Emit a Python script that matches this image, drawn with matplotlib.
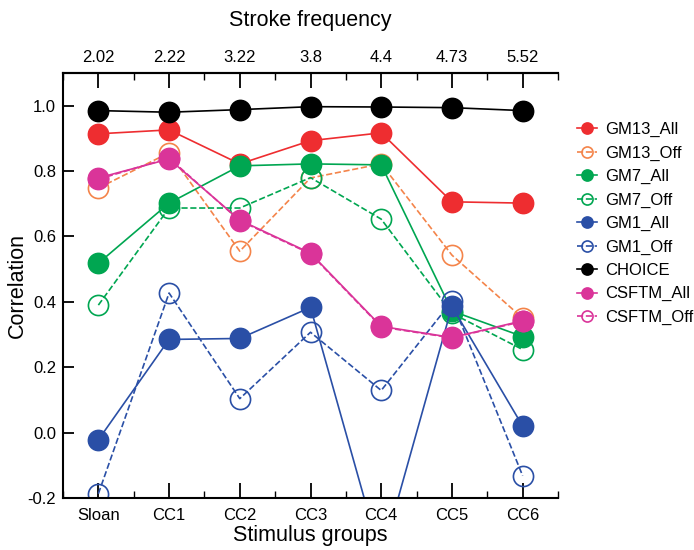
import matplotlib
matplotlib.use("Agg")
import matplotlib.pyplot as plt
from matplotlib.ticker import FixedLocator

plt.rcParams['font.family'] = ['Liberation Sans', 'DejaVu Sans']

groups = ["Sloan", "CC1", "CC2", "CC3", "CC4", "CC5", "CC6"]
stroke_freq = ["2.02", "2.22", "3.22", "3.8", "4.4", "4.73", "5.52"]

gm13_all = [0.914, 0.926, 0.822, 0.893, 0.917, 0.706, 0.702]
gm13_off = [0.748, 0.856, 0.555, 0.779, 0.822, 0.543, 0.350]
gm7_all = [0.518, 0.702, 0.816, 0.822, 0.819, 0.372, 0.294]
gm7_off = [0.390, 0.687, 0.687, 0.780, 0.653, 0.365, 0.254]
gm1_all = [-0.022, 0.285, 0.288, 0.383, -0.385, 0.386, 0.020]
gm1_off = [-0.187, 0.427, 0.104, 0.307, 0.129, 0.402, -0.132]
choice = [0.985, 0.980, 0.988, 0.997, 0.996, 0.994, 0.985]
csftm_all = [0.779, 0.837, 0.650, 0.549, 0.325, 0.291, 0.342]
csftm_off = [0.775, 0.840, 0.648, 0.547, 0.323, 0.290, 0.340]

series = [
    ("GM13_All", gm13_all, "#EE2D30", "-", True),
    ("GM13_Off", gm13_off, "#F4844A", "--", False),
    ("GM7_All", gm7_all, "#00A651", "-", True),
    ("GM7_Off", gm7_off, "#00A651", "--", False),
    ("GM1_All", gm1_all, "#2A4FA6", "-", True),
    ("GM1_Off", gm1_off, "#2A4FA6", "--", False),
    ("CHOICE", choice, "#000000", "-", True),
    ("CSFTM_All", csftm_all, "#DA3499", "-", True),
    ("CSFTM_Off", csftm_off, "#DA3499", "--", False),
]

fig = plt.figure(figsize=(6.94, 5.5), dpi=100)
ax = fig.add_axes([63/694, 1-498/550, (558-63)/694, (498-73)/550])

x = list(range(len(groups)))
for name, vals, col, ls, filled in series:
    ax.plot(x, vals, linestyle=ls, color=col, linewidth=1.2,
            marker='o', markersize=14.5,
            markerfacecolor=col if filled else 'none',
            markeredgecolor=col, markeredgewidth=1.2, label=name)

ax.set_xlim(-0.5, 6.5)
ax.set_ylim(-0.2, 1.1)
ax.set_xticks(x)
ax.set_xticklabels(groups)
ax.xaxis.set_minor_locator(FixedLocator([i + 0.5 for i in range(-1, 7)]))
ax.set_yticks([-0.2, 0.0, 0.2, 0.4, 0.6, 0.8, 1.0])
ax.set_yticklabels(["-0.2", "0.0", "0.2", "0.4", "0.6", "0.8", "1.0"])
ax.tick_params(axis='both', which='major', direction='in', length=11, width=1.3, labelsize=12, pad=5)
ax.tick_params(axis='x', which='major', pad=7)
ax.tick_params(axis='x', which='minor', direction='in', length=5, width=1.0)
ax.tick_params(axis='y', which='major', length=8)
for s in ["left", "bottom", "top"]:
    ax.spines[s].set_linewidth(1.5)
ax.spines["right"].set_visible(False)
ax.set_xlabel("Stimulus groups", fontsize=15.5, labelpad=2)
ax.set_ylabel("Correlation", fontsize=15.5, labelpad=0)

top = ax.secondary_xaxis('top')
top.set_xticks(x)
top.set_xticklabels(stroke_freq)
top.xaxis.set_minor_locator(FixedLocator([i + 0.5 for i in range(-1, 7)]))
top.tick_params(axis='x', which='major', direction='in', length=11, width=1.3, labelsize=12, pad=6)
top.tick_params(axis='x', which='minor', direction='in', length=5, width=1.0)
top.spines['top'].set_linewidth(1.5)
top.set_xlabel("Stroke frequency", fontsize=15.5, labelpad=17)

leg = ax.legend(loc='upper left', bbox_to_anchor=(1.025, 0.90), frameon=False,
                fontsize=12, handlelength=1.2, markerscale=0.55,
                labelspacing=0.5, handletextpad=0.5, borderaxespad=0)

fig.savefig("out.png", dpi=100)
